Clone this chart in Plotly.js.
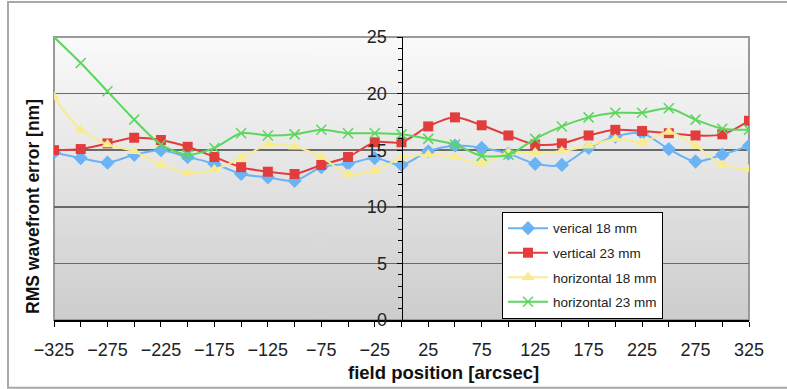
<!DOCTYPE html>
<html>
<head>
<meta charset="utf-8">
<script src="https://cdn.plot.ly/plotly-3.0.1.min.js"></script>
<style>
  html, body { margin: 0; padding: 0; background: #fff; }
  #chart { width: 787px; height: 389px; }
</style>
</head>
<body>
<div id="chart"></div>
<script>
const fieldPosition = [-325,-300,-275,-250,-225,-200,-175,-150,-125,-100,-75,-50,-25,0,25,50,75,100,125,150,175,200,225,250,275,300,325];
const vertical18 = [14.8,14.3,13.9,14.6,15.0,14.4,13.8,12.9,12.6,12.3,13.5,13.8,14.3,13.7,14.9,15.4,15.2,14.7,13.8,13.7,15.2,16.2,16.5,15.1,14.0,14.6,15.4];
const vertical23 = [15.0,15.1,15.6,16.1,15.9,15.3,14.4,13.5,13.1,12.9,13.7,14.4,15.7,15.7,17.1,17.9,17.2,16.3,15.5,15.6,16.3,16.8,16.7,16.5,16.3,16.4,17.6];
const horizontal18 = [19.7,16.8,15.5,14.9,13.7,13.0,13.3,14.3,15.5,15.3,14.4,12.9,13.2,14.3,14.6,14.4,13.8,14.8,14.8,14.9,15.4,16.0,15.7,16.6,15.4,13.7,13.3];
const horizontal23 = [25.0,22.7,20.2,17.7,15.5,14.6,15.2,16.5,16.3,16.4,16.8,16.5,16.5,16.4,16.0,15.5,14.5,14.6,16.0,17.1,17.9,18.3,18.3,18.7,17.7,16.9,16.8];
const seriesNames = ["verical 18 mm", "vertical 23 mm", "horizontal 18 mm", "horizontal 23 mm"];
const xTitle = "field position [arcsec]";
const yTitle = "RMS wavefront error [nm]";

// gradient background image
const cv = document.createElement('canvas');
cv.width = 4; cv.height = 300;
const ctx = cv.getContext('2d');
const g = ctx.createLinearGradient(0, 0, 0, 300);
g.addColorStop(0, '#fafafa');
g.addColorStop(1, '#cdcdcd');
ctx.fillStyle = g;
ctx.fillRect(0, 0, 4, 300);
const bgURL = cv.toDataURL();

const font = "Liberation Sans, Arial, sans-serif";

function mk(y, name, color, symbol, size, extra) {
  return Object.assign({
    type: 'scatter', mode: 'lines+markers', x: fieldPosition, y: y, name: name,
    legendgroup: name,
    line: {color: color, width: 2, shape: 'spline', smoothing: 0.8},
    marker: {color: color, symbol: symbol, size: size}
  }, extra || {});
}

const traces = [
  mk(vertical18, seriesNames[0], '#6ab4f6', 'diamond', 11),
  mk(vertical23, seriesNames[1], '#e23c3c', 'square', 10),
  mk(horizontal18, seriesNames[2], '#f9ec8e', 'triangle-up', 11),
  mk(horizontal23, seriesNames[3], '#5cd65c', 'x-thin-open', 10,
     {marker: {color: '#5cd65c', symbol: 'x-thin-open', size: 10, line: {color: '#5cd65c', width: 1.5}}})
];

const L = 54, R = 749, T = 37, B = 320.2;
const px = v => (v - L) / (R - L);
const py = v => (B - v) / (B - T);

const layout = {
  width: 787, height: 389,
  margin: {l: L, r: 787 - R, t: T, b: 389 - B},
  paper_bgcolor: '#ffffff',
  plot_bgcolor: 'rgba(0,0,0,0)',
  font: {family: font, size: 18, color: '#222'},
  showlegend: true,
  legend: {
    x: px(502), y: py(212), xanchor: 'left', yanchor: 'top',
    bgcolor: '#ffffff', bordercolor: '#000', borderwidth: 1,
    font: {family: font, size: 13.5, color: '#222'},
    tracegroupgap: 4, traceorder: 'grouped', itemwidth: 40
  },
  xaxis: {
    range: [-325, 325], tickmode: 'linear', tick0: -325, dtick: 50,
    ticks: 'outside', ticklen: 5, tickcolor: '#000', tickwidth: 1,
    minor: {tick0: -325, dtick: 25, ticks: 'outside', ticklen: 5, tickcolor: '#000'},
    showgrid: false, zeroline: false, showline: true, linecolor: '#000', linewidth: 1.5,
    ticklabelstandoff: 8,
    tickfont: {family: font, size: 18, color: '#222'}
  },
  yaxis: {
    range: [0, 25], tickmode: 'linear', tick0: 0, dtick: 5,
    anchor: 'free', position: 0.5,
    ticks: 'outside', ticklen: 5, tickcolor: '#000',
    minor: {dtick: 1, ticks: 'outside', ticklen: 4, tickcolor: '#000', showgrid: false},
    showgrid: true, gridcolor: '#6a6a6a', gridwidth: 1.5,
    zeroline: false, showline: true, linecolor: '#000', linewidth: 1.5,
    ticklabelstandoff: 6,
    tickfont: {family: font, size: 18, color: '#222'}
  },
  images: [{source: bgURL, xref: 'paper', yref: 'paper', x: 0, y: 1, sizex: 1, sizey: 1,
            sizing: 'stretch', layer: 'below'}],
  shapes: [
    {type: 'rect', xref: 'paper', yref: 'paper', x0: 0, x1: 1, y0: 0, y1: 1,
     line: {color: '#9a9a9a', width: 2}, layer: 'below'},
    {type: 'rect', xref: 'paper', yref: 'paper', x0: px(8), x1: px(792), y0: py(388), y1: py(2),
     line: {color: '#a8a8a8', width: 2}, layer: 'below'}
  ],
  annotations: [
    {text: '<b>' + xTitle + '</b>', xref: 'paper', yref: 'paper', x: px(443), y: py(373),
     showarrow: false, font: {family: font, size: 18.5, color: '#111'}, xanchor: 'center', yanchor: 'middle'},
    {text: '<b>' + yTitle + '</b>', xref: 'paper', yref: 'paper', x: px(33), y: py(207),
     showarrow: false, textangle: -90, font: {family: font, size: 17.5, color: '#111'}, xanchor: 'center', yanchor: 'middle'}
  ]
};

Plotly.newPlot('chart', traces, layout, {displayModeBar: false, staticPlot: true});
</script>
</body>
</html>
